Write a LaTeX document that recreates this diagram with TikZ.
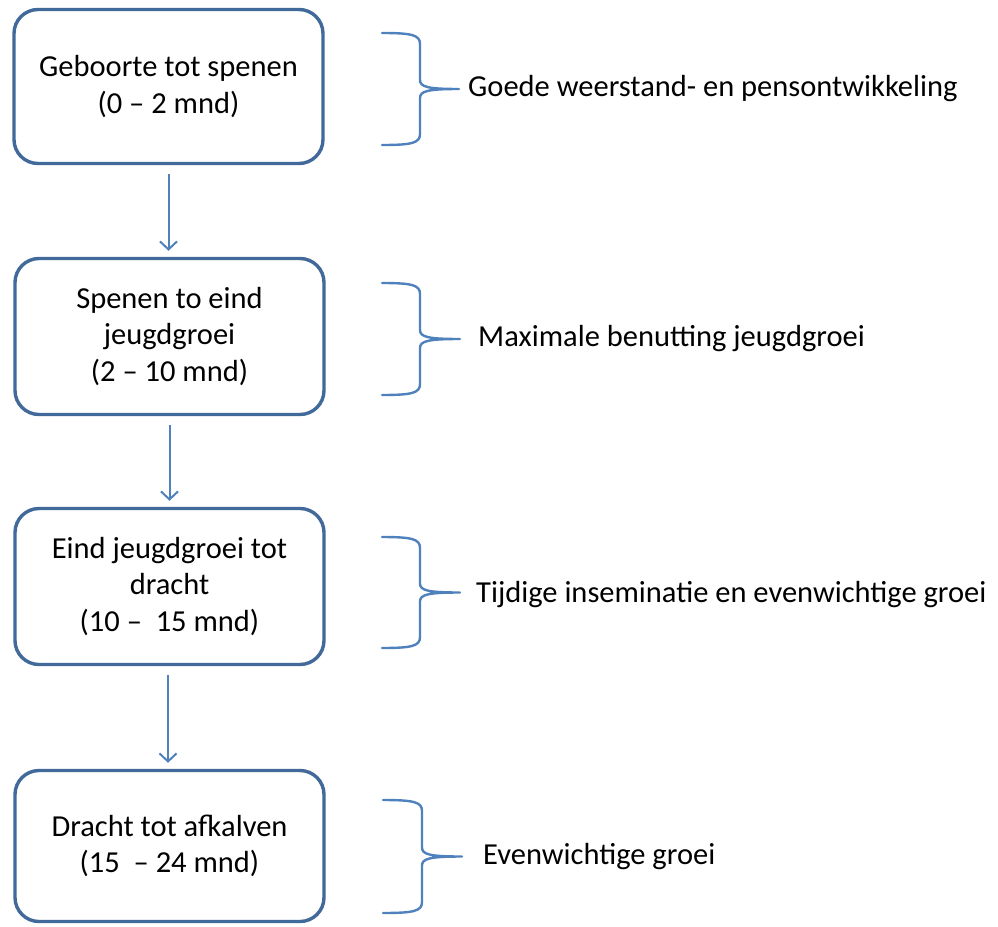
\documentclass[tikz,border=0pt]{standalone}
\usepackage{fontspec}
\setmainfont{Carlito}
\usetikzlibrary{arrows.meta}
\definecolor{boxblue}{HTML}{41699A}
\definecolor{lineblue}{HTML}{4F81BD}
\tikzset{
  stagebox/.style={draw=boxblue, line width=3.4pt, rounded corners=24pt, fill=white,
    align=center, inner sep=0pt, minimum width=309pt,
    font=\fontsize{30.5}{36.5}\selectfont},
  flowarrow/.style={draw=lineblue, line width=2pt,
    -{Straight Barb[length=8pt,width=17pt,line width=2pt]},
    shorten <=9pt, shorten >=6pt},
  bracepath/.style={draw=lineblue, line width=2.4pt, line cap=round, line join=round},
  goal/.style={anchor=west, inner sep=0pt, font=\fontsize{30.5}{36}\selectfont}
}
\newcommand\goalbrace[6]{% name, leftx, vertx, tipx, top, bottom
  \pgfmathsetmacro\midy{(#5+#6)/2}
  \coordinate (#1) at (#4,-\midy);
  \draw[bracepath] (#2,-#5) .. controls (#3-8,-#5) and (#3,-#5-2) .. (#3,-#5-11)
     -- (#3,-\midy+9) .. controls (#3,-\midy+2) and (#3+8,-\midy) .. (#1)
     .. controls (#3+8,-\midy) and (#3,-\midy-2) .. (#3,-\midy-9)
     -- (#3,-#6+11) .. controls (#3,-#6+2) and (#3-8,-#6) .. (#2,-#6);
}
\begin{document}
\begin{tikzpicture}[x=1pt,y=1pt]
\useasboundingbox (0,0) rectangle (998,-926);
\node[stagebox, minimum height=154pt] (b1) at (168.5,-86.5) {Geboorte tot spenen\\(0 – 2 mnd)};
\node[stagebox, minimum height=156pt] (b2) at (169.5,-336.5) {Spenen to eind\\jeugdgroei\\(2 – 10 mnd)};
\node[stagebox, minimum height=156pt] (b3) at (169.5,-586.5) {Eind jeugdgroei tot\\dracht\\(10 –\ \ 15 mnd)};
\node[stagebox, minimum height=151pt] (b4) at (169.5,-846) {Dracht tot afkalven\\(15\ \ – 24 mnd)};
\draw[flowarrow] (b1.south) -- (b1.south |- b2.north);
\draw[flowarrow] (b2.south) -- (b2.south |- b3.north);
\draw[flowarrow] ([xshift=-1.5pt]b3.south) -- ([xshift=-1.5pt]b3.south |- b4.north);
\goalbrace{t1}{382}{420}{459}{33}{145}
\goalbrace{t2}{382}{420}{460}{283}{395}
\goalbrace{t3}{382}{420}{460}{537}{648}
\goalbrace{t4}{383}{422}{462}{800}{913}
\node[goal] (g1) at (468,-89) {Goede weerstand- en pensontwikkeling};
\node[goal] (g2) at (478,-339) {Maximale benutting jeugdgroei};
\node[goal] (g3) at (476,-595) {Tijdige inseminatie en evenwichtige groei};
\node[goal] (g4) at (483,-857) {Evenwichtige groei};
\end{tikzpicture}
\end{document}
